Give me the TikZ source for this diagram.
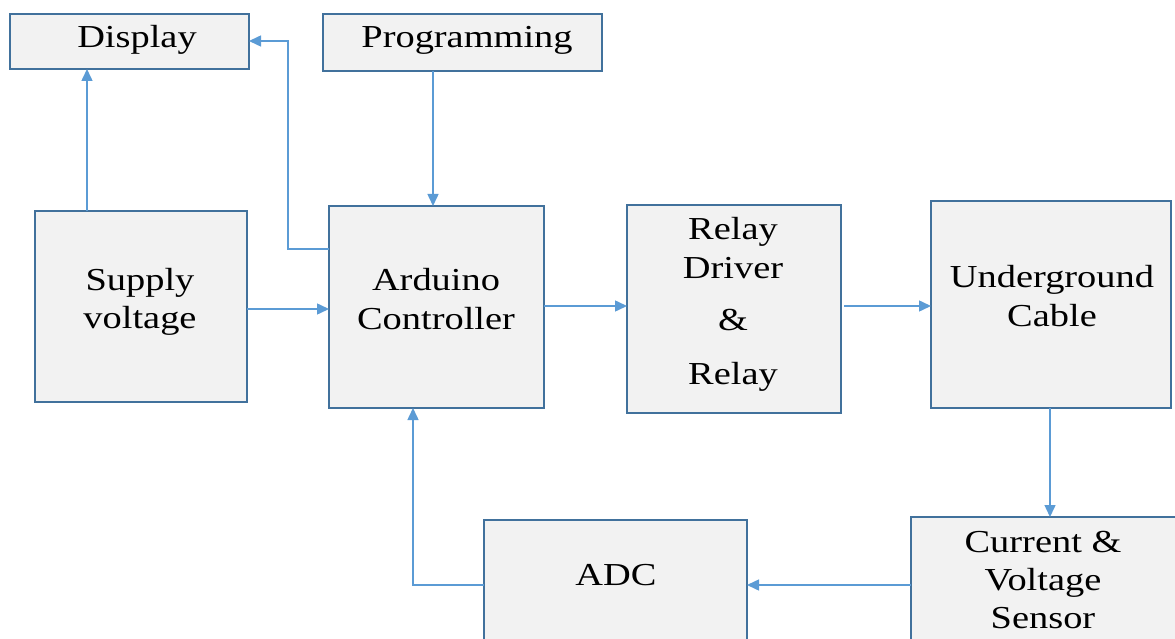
\documentclass[tikz,border=0pt]{standalone}
\usepackage{fontspec}
\setmainfont{Liberation Serif}[FakeStretch=1.2]
\usetikzlibrary{arrows.meta}
\definecolor{boxline}{HTML}{41719C}
\definecolor{boxfill}{HTML}{F2F2F2}
\definecolor{conncol}{HTML}{5B9BD5}
\tikzset{
  blk/.style={draw=boxline, fill=boxfill, line width=1.6pt, inner sep=0pt, outer sep=0pt, anchor=north west},
  conn/.style={draw=conncol, line width=1.5pt, -{Triangle[length=12pt,width=11pt]}},
  lbl/.style={anchor=base, inner sep=0pt, font=\fontsize{32}{38}\selectfont}
}
\begin{document}
\begin{tikzpicture}[x=1pt,y=-1pt]
\useasboundingbox (0,0) rectangle (1175,639);
% boxes
\node[blk, minimum width=239pt, minimum height=55pt] (disp) at (10,14) {};
\node[blk, minimum width=279pt, minimum height=57pt] (prog) at (323,14) {};
\node[blk, minimum width=212pt, minimum height=191pt] (supply) at (35,211) {};
\node[blk, minimum width=215pt, minimum height=202pt] (ard) at (329,206) {};
\node[blk, minimum width=214pt, minimum height=208pt] (relay) at (627,205) {};
\node[blk, minimum width=240pt, minimum height=207pt] (ug) at (931,201) {};
\node[blk, minimum width=280pt, minimum height=150pt] (sensor) at (911,517) {};
\node[blk, minimum width=263pt, minimum height=150pt] (adc) at (484,520) {};
% texts
\node[lbl] (tdisp) at (137,48) {Display};
\node[lbl] (tprog) at (467,48) {Programming};
\node[lbl] (tsup1) at (140,290) {Supply};
\node[lbl] (tsup2) at (140,328) {voltage};
\node[lbl] (tard1) at (436,290) {Arduino};
\node[lbl] (tard2) at (436,329) {Controller};
\node[lbl] (trel1) at (733,240) {Relay};
\node[lbl] (trel2) at (733,278) {Driver};
\node[lbl] (trel3) at (733,330) {\&};
\node[lbl] (trel4) at (733,384) {Relay};
\node[lbl] (tug1) at (1052,287) {Underground};
\node[lbl] (tug2) at (1052,326) {Cable};
\node[lbl] (tsen1) at (1043,552) {Current \&};
\node[lbl] (tsen2) at (1043,590) {Voltage};
\node[lbl] (tsen3) at (1043,628) {Sensor};
\node[lbl] (tadc) at (616,585) {ADC};
% connectors
\draw[conn] (87,0 |- supply.north) -- (87,0 |- disp.south);
\draw[conn] (ard.west |- 0,249) -| (288,41) -- (disp.east |- 0,41);
\draw[conn] (433,0 |- prog.south) -- (433,0 |- ard.north);
\draw[conn] (supply.east |- 0,309) -- (ard.west |- 0,309);
\draw[conn] (ard.east |- 0,306) -- (relay.west |- 0,306);
\draw[conn] ([xshift=3pt]relay.east |- 0,306) -- (ug.west |- 0,306);
\draw[conn] (1050,0 |- ug.south) -- (1050,0 |- sensor.north);
\draw[conn] (sensor.west |- 0,585) -- (adc.east |- 0,585);
\draw[conn] (adc.west |- 0,585) -| (413,0 |- ard.south);
\end{tikzpicture}
\end{document}
